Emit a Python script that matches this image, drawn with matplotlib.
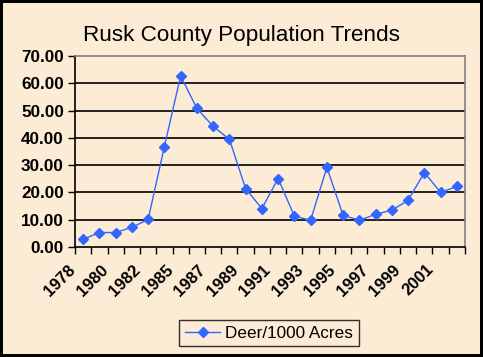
import numpy as np
import matplotlib
matplotlib.use("Agg")
import matplotlib.pyplot as plt
import matplotlib.transforms as mtransforms

# ── Data ────────────────────────────────────────────────────────────
years = [1978, 1979, 1980, 1981, 1982, 1984, 1985, 1986, 1987, 1988,
         1989, 1990, 1991, 1992, 1993, 1994, 1995, 1996, 1997, 1998,
         1999, 2000, 2001, 2002]
deer = [2.8, 5.3, 5.3, 7.2, 10.1, 36.8, 62.7, 50.8, 44.2, 39.5,
        21.4, 14.1, 25.1, 11.3, 9.8, 29.2, 11.6, 9.8, 12.0, 13.5,
        17.1, 27.3, 20.0, 22.2]
yticks = [0, 10, 20, 30, 40, 50, 60, 70]

bg = "#FCEBD5"
blue = "#3366FF"

plt.rcParams["font.family"] = ["Liberation Sans", "DejaVu Sans"]

fig = plt.figure(figsize=(4.83, 3.57), dpi=100, facecolor=bg,
                 edgecolor="black", linewidth=3)
ax = fig.add_axes([75 / 483, 1 - 247 / 357, 390 / 483, 191 / 357])
ax.set_facecolor(bg)

x = np.arange(len(years))
ax.plot(x, deer, color=blue, linewidth=1.0, marker="D", markersize=5.5,
        markerfacecolor=blue, markeredgecolor=blue, label="Deer/1000 Acres")

# y axis
ax.set_ylim(0, 70)
ax.set_yticks(yticks)
ax.set_yticklabels([f"{v:.2f}" for v in yticks], fontsize=12.3,
                   fontweight="bold")
for v in yticks[1:-1]:
    ax.axhline(v, color="black", linewidth=1.2, zorder=0)

# x axis: ticks between categories, labels on every other category
ax.set_xlim(-0.5, len(years) - 0.5)
ax.set_xticks(np.arange(-0.5, len(years), 1.0))
ax.set_xticklabels([])
shift = mtransforms.ScaledTranslation(-15 / 100, -15 / 100, fig.dpi_scale_trans)
for i in range(0, len(years), 2):
    ax.text(i, 0, str(years[i]), rotation=45, ha="right", va="top",
            rotation_mode="anchor", fontsize=12, fontweight="bold",
            transform=ax.get_xaxis_transform() + shift)

ax.tick_params(axis="both", direction="out", length=5, width=1,
               color="black", pad=3)

for side in ["top", "right"]:
    ax.spines[side].set_color("#808080")
    ax.spines[side].set_linewidth(1.2)
for side in ["left", "bottom"]:
    ax.spines[side].set_color("black")
    ax.spines[side].set_linewidth(1.2)

fig.text(0.5, 1 - 36 / 357, "Rusk County Population Trends", ha="center",
         va="center", fontsize=16.2)

leg = fig.legend(loc="center", bbox_to_anchor=(269 / 483, 1 - 333 / 357),
                 fontsize=12.3, frameon=True, fancybox=False,
                 handlelength=2.0, handletextpad=0.3, borderpad=0.35,
                 borderaxespad=0)
leg.get_frame().set_edgecolor("black")
leg.get_frame().set_linewidth(1.0)
leg.get_frame().set_facecolor(bg)

fig.savefig("out.png", dpi=100, facecolor=bg, edgecolor="black")
